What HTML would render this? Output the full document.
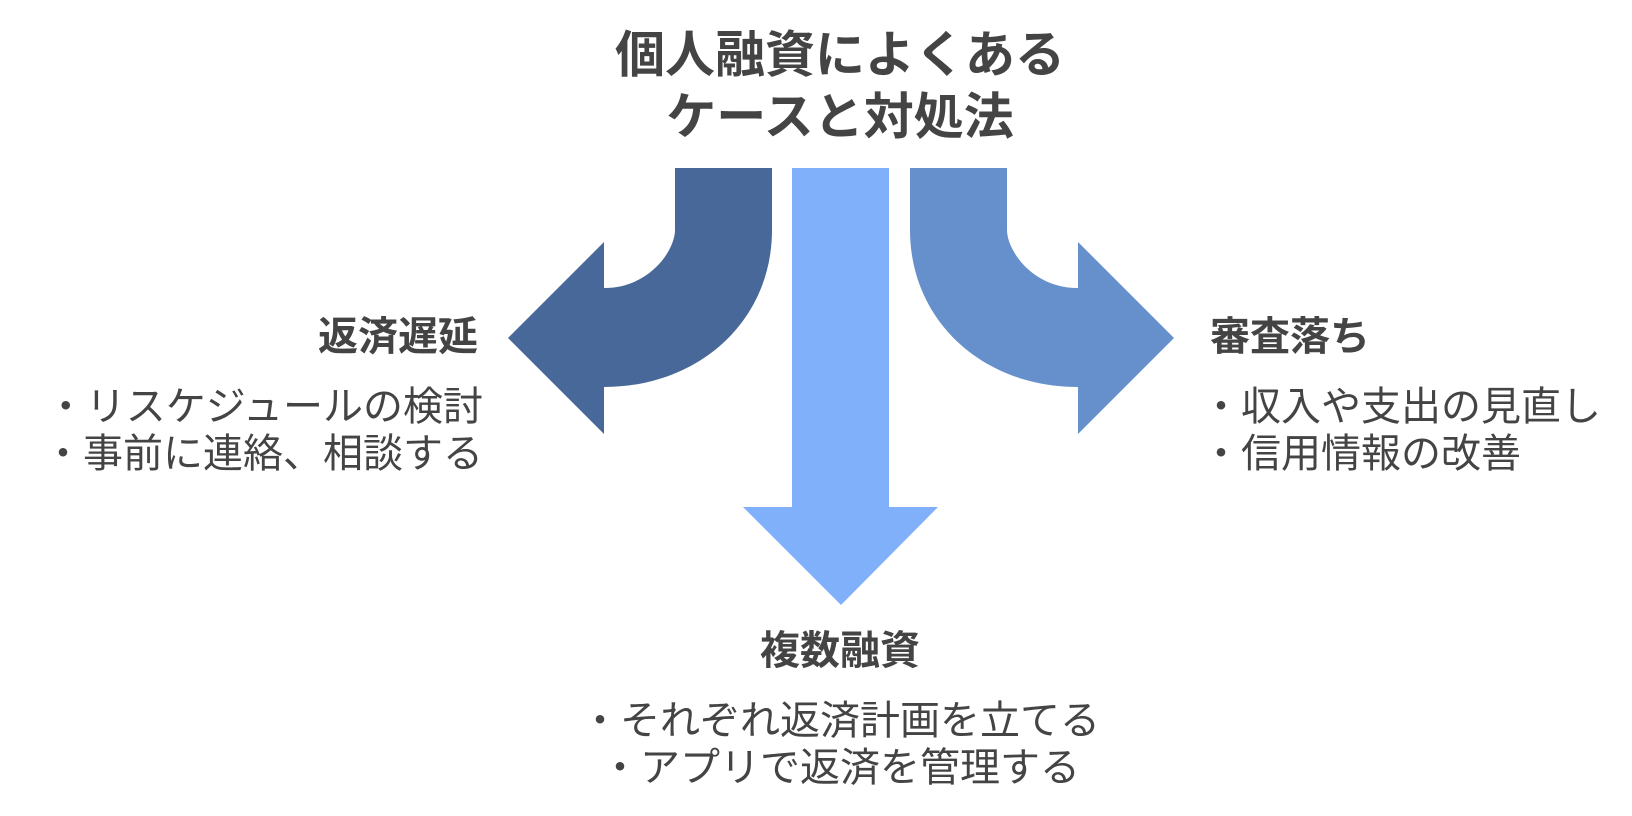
<!DOCTYPE html>
<html><head><meta charset="utf-8"><style>
body{margin:0;width:1632px;height:816px;background:#fff;position:relative;overflow:hidden;font-family:"Liberation Sans","Noto Sans CJK JP",sans-serif;color:#444}
.t{position:absolute;white-space:nowrap;line-height:1}
.b{font-weight:bold}
</style></head><body>
<svg width="1632" height="816" style="position:absolute;left:0;top:0">
<path d="M675 168 H772 V230 C772 320 700 387 604 387 V434 L508 338 L604 242 V288 C650 288 675 250 675 230 Z" fill="#476898"/>
<path d="M1007 168 H910 V230 C910 320 982 387 1078 387 V434 L1174 338 L1078 242 V288 C1032 288 1007 250 1007 230 Z" fill="#6690cc"/>
<path d="M792 168 H889 V507 H938 L841 605 L743 507 H792 Z" fill="#80b0fa"/>
</svg>
<div class="t b" style="left:0;width:1680px;text-align:center;top:30px;font-size:50px">個人融資によくある</div>
<div class="t b" style="left:0;width:1680px;text-align:center;top:92px;font-size:50px">ケースと対処法</div>
<div class="t b" style="right:1154px;top:317px;font-size:40px">返済遅延</div>
<div class="t" style="right:1149px;top:387px;font-size:40px">・リスケジュールの検討</div>
<div class="t" style="right:1149px;top:434px;font-size:40px">・事前に連絡、相談する</div>
<div class="t b" style="left:1210px;top:317px;font-size:40px">審査落ち</div>
<div class="t" style="left:1201px;top:387px;font-size:40px">・収入や支出の見直し</div>
<div class="t" style="left:1201px;top:434px;font-size:40px">・信用情報の改善</div>
<div class="t b" style="left:0;width:1680px;text-align:center;top:631px;font-size:40px">複数融資</div>
<div class="t" style="left:0;width:1680px;text-align:center;top:701px;font-size:40px">・それぞれ返済計画を立てる</div>
<div class="t" style="left:0;width:1680px;text-align:center;top:748px;font-size:40px">・アプリで返済を管理する</div>
</body></html>
